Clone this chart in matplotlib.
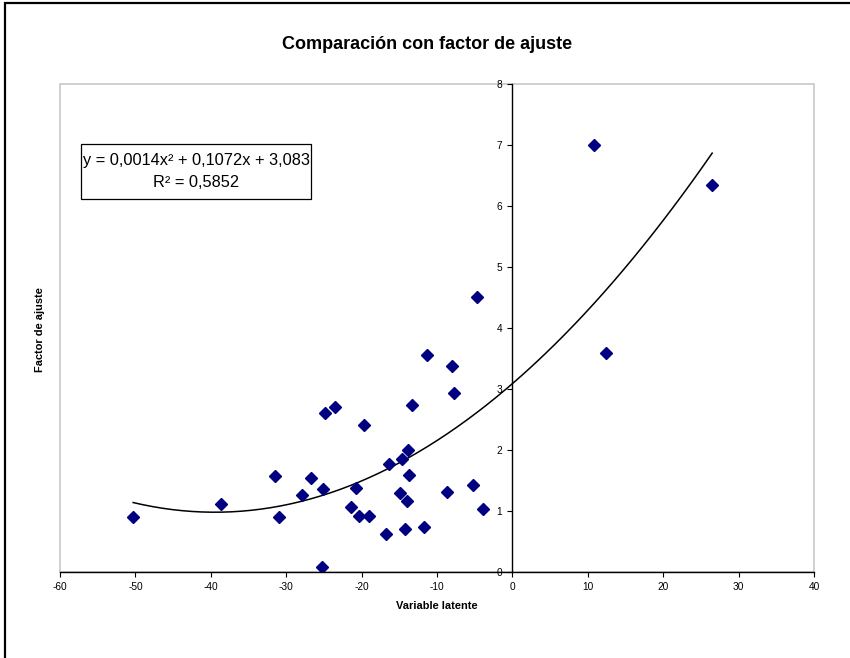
import numpy as np
import matplotlib
matplotlib.use("Agg")
import matplotlib.pyplot as plt
from matplotlib.patches import Rectangle

plt.rcParams['font.family'] = ['Liberation Sans', 'DejaVu Sans']
plt.rcParams['axes.unicode_minus'] = False

# datos
variable_latente = [-50.3, -38.7, -31.5, -31.0, -27.9, -26.7, -25.1, -25.3, -24.8, -23.5,
                    -19.7, -20.8, -21.4, -20.3, -19.0, -16.8, -16.3, -14.6, -13.8, -13.7,
                    -14.9, -14.0, -14.3, -13.3, -11.3, -11.7, -8.0, -7.7, -8.7, -5.2,
                    -3.9, -4.7, 10.8, 26.5, 12.4]
factor_ajuste = [0.89, 1.11, 1.57, 0.89, 1.26, 1.54, 1.36, 0.07, 2.60, 2.70,
                 2.40, 1.37, 1.06, 0.92, 0.92, 0.62, 1.76, 1.85, 1.99, 1.59,
                 1.29, 1.16, 0.70, 2.73, 3.55, 0.74, 3.37, 2.93, 1.30, 1.43,
                 1.02, 4.50, 7.00, 6.34, 3.58]

x_ticks = [-60, -50, -40, -30, -20, -10, 0, 10, 20, 30, 40]
y_ticks = [0, 1, 2, 3, 4, 5, 6, 7, 8]

ecuacion = "y = 0,0014x² + 0,1072x + 3,083\nR² = 0,5852"


fig = plt.figure(figsize=(8.5, 6.58), dpi=100)
ax = fig.add_axes([0.0706, 0.1312, 0.8870, 0.7411])

x = np.array(variable_latente)
y = np.array(factor_ajuste)

# linea de tendencia polinomica orden 2
coef = np.polyfit(x, y, 2)
xx = np.linspace(x.min(), x.max(), 60)
ax.plot(xx, np.polyval(coef, xx), color='black', lw=1.1, zorder=2)

ax.plot(x, y, linestyle='none', marker='D', ms=5.7, color='#000080',
        markeredgecolor='#000080', zorder=3)

ax.set_xlim(-60, 40)
ax.set_ylim(0, 8)
ax.set_xticks(x_ticks)
ax.set_yticks(y_ticks)
ax.tick_params(axis='both', direction='out', length=3.5, width=0.8,
               labelsize=7.3, colors='black', pad=4)

ax.spines['left'].set_position(('data', 0))
ax.spines['bottom'].set_position(('data', 0))
ax.spines['top'].set_visible(False)
ax.spines['right'].set_visible(False)
for s in ['left', 'bottom']:
    ax.spines[s].set_linewidth(1.0)
    ax.spines[s].set_zorder(4)

# borde gris del area de trazado
ax.add_patch(Rectangle((0, 0), 1, 1, transform=ax.transAxes, fill=False,
                       edgecolor='#c8c8c8', lw=1.2, clip_on=False, zorder=1))

# cuadro con la ecuacion
fig.patches.append(Rectangle((0.0953, 0.6976), 0.2706, 0.0836, transform=fig.transFigure,
                             facecolor='white', edgecolor='black', lw=0.9, zorder=5))
fig.text(0.2306, 0.7395, ecuacion, fontsize=11.8, ha='center', va='center',
         multialignment='center', linespacing=1.6, zorder=6)

fig.text(0.502, 0.933, "Comparación con factor de ajuste", ha='center', va='center',
         fontsize=13, fontweight='bold')
fig.text(0.514, 0.0795, "Variable latente", ha='center', va='center',
         fontsize=7.9, fontweight='bold')
fig.text(0.047, 0.4985, "Factor de ajuste", ha='center', va='center',
         fontsize=7.9, fontweight='bold', rotation=90)

# borde del grafico
fig.patches.append(Rectangle((0.006, -0.1), 1.2, 1.0947, transform=fig.transFigure,
                             fill=False, edgecolor='black', lw=1.6))

fig.savefig("out.png", dpi=100)
